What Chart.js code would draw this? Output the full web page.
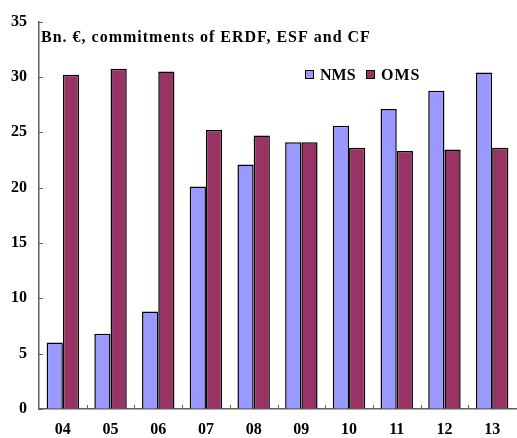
<!DOCTYPE html>
<html>
<head>
<meta charset="utf-8">
<script src="https://cdn.jsdelivr.net/npm/chart.js@4"></script>
<style>
  html, body { margin: 0; padding: 0; background: #fff; }
  #wrap { width: 517px; height: 438px; position: relative; }
</style>
</head>
<body>
<div id="wrap"><canvas id="c" width="517" height="438"></canvas></div>
<script>
const categories = ['04', '05', '06', '07', '08', '09', '10', '11', '12', '13'];
const nmsValues = [6.0, 6.8, 8.8, 20.1, 22.1, 24.1, 25.6, 27.1, 28.75, 30.4];
const omsValues = [30.2, 30.75, 30.5, 25.2, 24.7, 24.1, 23.6, 23.3, 23.45, 23.6];
const seriesNames = ['NMS', 'OMS'];
const yTicks = [0, 5, 10, 15, 20, 25, 30, 35];
const titleText = 'Bn. €, commitments of ERDF, ESF and CF';

const FONT = '"Liberation Serif", "Times New Roman", serif';
const AXIS_COLOR = '#606060';

const overlay = {
  id: 'overlay',
  afterDraw(chart) {
    const ctx = chart.ctx;
    const area = chart.chartArea;
    const xs = chart.scales.x, ys = chart.scales.y;
    ctx.save();
    // inward tick marks
    ctx.strokeStyle = AXIS_COLOR;
    ctx.lineWidth = 1;
    ctx.beginPath();
    yTicks.forEach(v => {
      const y = Math.round(ys.getPixelForValue(v)) + 0.5;
      ctx.moveTo(area.left, y);
      ctx.lineTo(area.left + 4, y);
    });
    for (let i = 1; i < categories.length; i++) {
      const x = Math.round((xs.getPixelForValue(i - 1) + xs.getPixelForValue(i)) / 2) + 0.5;
      ctx.moveTo(x, area.bottom);
      ctx.lineTo(x, area.bottom - 4);
    }
    ctx.stroke();
    // title inside plot
    ctx.fillStyle = '#000';
    ctx.font = 'bold 16px ' + FONT;
    ctx.textBaseline = 'alphabetic';
    ctx.textAlign = 'left';
    if ('letterSpacing' in ctx) ctx.letterSpacing = '1px';
    ctx.fillText(titleText, area.left + 2, area.top + 20);
    // legend
    const legX = [305, 366];
    const legY = 70;
    chart.data.datasets.forEach((ds, i) => {
      ctx.fillStyle = ds.backgroundColor;
      ctx.fillRect(legX[i], legY, 8, 8);
      ctx.strokeStyle = '#000';
      ctx.lineWidth = 1;
      ctx.strokeRect(legX[i] + 0.5, legY + 0.5, 8, 8);
      ctx.fillStyle = '#000';
      if ('letterSpacing' in ctx) ctx.letterSpacing = i === 1 ? '1px' : '0px';
      ctx.fillText(ds.label, legX[i] + 15, legY + 10);
    });
    ctx.restore();
  }
};

new Chart(document.getElementById('c'), {
  type: 'bar',
  data: {
    labels: categories,
    datasets: [
      { label: seriesNames[0], data: nmsValues, backgroundColor: '#9999FF', borderColor: '#000', borderWidth: 1.5 },
      { label: seriesNames[1], data: omsValues, backgroundColor: '#993366', borderColor: '#000', borderWidth: 1.5 }
    ]
  },
  options: {
    responsive: false,
    animation: false,
    devicePixelRatio: 1,
    layout: { padding: { top: 20, right: 1, left: 0, bottom: 0 } },
    plugins: { legend: { display: false }, tooltip: { enabled: false }, title: { display: false } },
    datasets: { bar: { barPercentage: 1, categoryPercentage: 0.68 } },
    scales: {
      x: {
        grid: { display: true, drawOnChartArea: false, drawTicks: false },
        border: { display: true, color: AXIS_COLOR, width: 1.5 },
        ticks: { color: '#000', font: { family: FONT, size: 16, weight: 'bold' }, padding: 11 },
        afterFit(s) { s.height = 29; }
      },
      y: {
        min: 0, max: 35,
        grid: { display: true, drawOnChartArea: false, drawTicks: false },
        border: { display: true, color: AXIS_COLOR, width: 1.5 },
        ticks: { stepSize: 5, color: '#000', font: { family: FONT, size: 16, weight: 'bold' }, padding: 12,
          callback: (v) => yTicks.includes(v) ? String(v) : '' },
        afterFit(s) { s.width = 39; }
      }
    }
  },
  plugins: [overlay]
});
</script>
</body>
</html>
